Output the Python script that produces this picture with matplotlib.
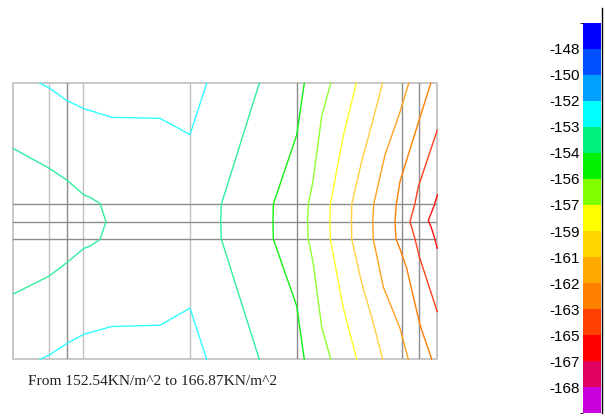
import matplotlib
matplotlib.use("Agg")
import matplotlib.pyplot as plt
from matplotlib.colors import ListedColormap, BoundaryNorm
from matplotlib.cm import ScalarMappable
import numpy as np

# ---------------- data (model coordinates, y measured downward) ----------------
x_range = [13.3, 437.3]
y_range = [83.3, 359.3]

mesh_x_light = [49.3, 83.3, 190.0]
mesh_x_dark = [66.7, 296.7, 402.3, 419.3]
mesh_y = [204.3, 221.7, 239.0]

cyan_top_x = [40.0, 49.3, 66.7, 84.0, 111.7, 160.0, 190.0, 206.7]
cyan_top_y = [83.3, 88.0, 100.5, 108.7, 117.3, 118.3, 134.5, 83.3]
cyan_bot_x = [40.0, 49.3, 66.7, 84.0, 111.7, 160.0, 190.0, 206.7]
cyan_bot_y = [359.3, 355.0, 343.5, 334.2, 326.5, 325.2, 308.2, 359.3]

loop_x = [13.3, 49.3, 66.7, 84.0, 90.0, 100.0, 106.0, 100.0, 90.0, 84.0, 66.7, 49.3, 13.3]
loop_y = [148.5, 168.3, 180.0, 195.0, 197.3, 203.5, 221.7, 239.5, 246.0, 248.3, 262.7, 276.0, 294.0]

spring_x = [259.3, 221.3, 220.7, 221.3, 259.3]
spring_y = [83.3, 204.3, 221.7, 239.0, 359.3]

green_x = [304.3, 296.7, 273.3, 273.0, 273.3, 296.7, 304.3]
green_y = [83.3, 135.0, 204.3, 221.7, 239.0, 306.0, 359.3]

ygreen_x = [330.7, 321.7, 313.0, 308.3, 307.5, 308.3, 313.0, 321.7, 330.7]
ygreen_y = [83.3, 116.0, 181.0, 204.3, 221.7, 239.0, 262.0, 327.0, 359.3]

yellow_x = [356.3, 343.3, 330.3, 330.0, 330.3, 343.3, 356.7]
yellow_y = [83.3, 136.0, 204.3, 221.7, 239.0, 308.0, 359.3]

gold_x = [382.5, 371.7, 361.7, 351.7, 351.5, 351.7, 361.7, 371.7, 382.7]
gold_y = [83.3, 124.7, 161.3, 204.3, 221.7, 239.0, 283.0, 317.0, 359.3]

orange_x = [408.7, 400.0, 385.0, 373.7, 372.7, 373.3, 383.3, 400.0, 408.3]
orange_y = [83.3, 112.0, 155.0, 204.3, 221.7, 239.0, 287.0, 328.3, 359.3]

dkorange_x = [430.8, 419.0, 400.0, 396.3, 395.0, 396.0, 400.0, 406.7, 420.0, 431.7]
dkorange_y = [83.3, 120.5, 181.5, 204.3, 221.7, 239.0, 249.0, 268.3, 325.0, 359.3]

red1_x = [437.3, 418.3, 415.0, 410.0, 415.0, 419.3, 437.3]
red1_y = [130.0, 186.7, 203.3, 221.7, 239.0, 256.7, 311.7]

red2_x = [437.3, 434.0, 428.3, 431.0, 434.0, 437.3]
red2_y = [195.0, 206.0, 220.5, 226.7, 236.0, 248.3]

contour_colors = {
    "cyan": "#30FFFF", "spring": "#30F0A0", "green": "#10F010",
    "ygreen": "#90FF30", "yellow": "#FFFF20", "gold": "#FFD040",
    "orange": "#FFA020", "dkorange": "#FF8000", "red1": "#FF4020", "red2": "#FF1010",
}

cbar_labels = ["-148", "-150", "-152", "-153", "-154", "-156", "-157",
               "-159", "-161", "-162", "-163", "-165", "-167", "-168"]
cbar_colors = ["#0000FF", "#0050FF", "#00A0FF", "#00FFFF", "#00F080", "#00F000",
               "#80FF00", "#FFFF00", "#FFD700", "#FFAA00", "#FF8000", "#FF4000",
               "#FF0000", "#E00060", "#C800DC"]

caption = "From 152.54KN/m^2 to 166.87KN/m^2"

# ---------------- figure ----------------
W, H = 605, 417
fig = plt.figure(figsize=(W / 100, H / 100), dpi=100)

def px_rect(x0, y0, x1, y1):
    return [x0 / W, 1 - y1 / H, (x1 - x0) / W, (y1 - y0) / H]

ax = fig.add_axes(px_rect(x_range[0], y_range[0], x_range[1], y_range[1]))
ax.set_xlim(x_range)
ax.set_ylim(y_range[1], y_range[0])
ax.set_axis_off()

lw_mesh = 1.0
# border
ax.plot([x_range[0], x_range[1], x_range[1], x_range[0], x_range[0]],
        [y_range[0], y_range[0], y_range[1], y_range[1], y_range[0]],
        color="#C8C8C8", lw=1.4, clip_on=False, zorder=1)
for xv in mesh_x_light:
    ax.plot([xv, xv], y_range, color="#C0C0C0", lw=lw_mesh, zorder=1)
for xv in mesh_x_dark:
    ax.plot([xv, xv], y_range, color="#8C8C8C", lw=lw_mesh, zorder=1)
for yv in mesh_y:
    ax.plot(x_range, [yv, yv], color="#8C8C8C", lw=lw_mesh, zorder=1)

lines = [
    (cyan_top_x, cyan_top_y, "cyan"), (cyan_bot_x, cyan_bot_y, "cyan"),
    (loop_x, loop_y, "spring"), (spring_x, spring_y, "spring"),
    (green_x, green_y, "green"), (ygreen_x, ygreen_y, "ygreen"),
    (yellow_x, yellow_y, "yellow"), (gold_x, gold_y, "gold"),
    (orange_x, orange_y, "orange"), (dkorange_x, dkorange_y, "dkorange"),
    (red1_x, red1_y, "red1"), (red2_x, red2_y, "red2"),
]
for xs, ys, key in lines:
    ax.plot(xs, ys, color=contour_colors[key], lw=1.0, zorder=2, clip_on=False)

fig.text(28.3 / W, 1 - 381.5 / H, caption, family="Liberation Serif",
         fontsize=11.1, ha="left", va="center", color="#202020")

# ---------------- colorbar ----------------
cax = fig.add_axes(px_rect(583.0, 22.7, 601.0, 413.3))
n = len(cbar_colors)
cmap = ListedColormap(cbar_colors)
norm = BoundaryNorm(np.arange(n + 1), n)
cb = fig.colorbar(ScalarMappable(norm=norm, cmap=cmap), cax=cax,
                  ticks=np.arange(1, n), drawedges=False)
cb.outline.set_visible(False)
cax.invert_yaxis()
cax.yaxis.set_ticks_position("left")
cax.set_yticklabels(cbar_labels, family="Liberation Sans", fontsize=11)
cax.tick_params(axis="y", length=0, pad=2)
fig.add_artist(plt.Line2D([601.5 / W, 601.5 / W], [1 - 8 / H, 1 - 413.3 / H],
                          color="black", lw=1.0))

fig.savefig("out.png", dpi=100)
